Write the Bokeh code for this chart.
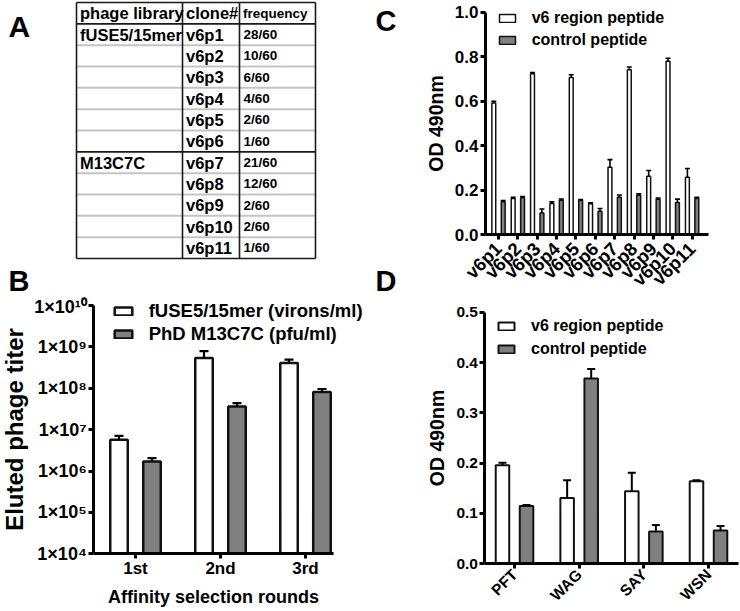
import math
from bokeh.plotting import figure
from bokeh.layouts import column, row
from bokeh.models import (Range1d, FixedTicker, Legend, LegendItem, Whisker, TeeHead,
                          ColumnDataSource, Label, NumeralTickFormatter)
from bokeh.embed import file_html
from bokeh.resources import INLINE
from bokeh.core.properties import value

FONT = "Liberation Sans"

# ---------------- Panel A: table ----------------
TABLE_HEADER = ["phage library", "clone#", "frequency"]
LIBRARY = ["fUSE5/15mer", "", "", "", "", "", "M13C7C", "", "", "", ""]
CLONES = ["v6p1", "v6p2", "v6p3", "v6p4", "v6p5", "v6p6",
          "v6p7", "v6p8", "v6p9", "v6p10", "v6p11"]
FREQUENCY = ["28/60", "10/60", "6/60", "4/60", "2/60", "1/60",
             "21/60", "12/60", "2/60", "2/60", "1/60"]
GROUP_BREAK_AFTER = 6  # rows of first library

# ---------------- Panel B ----------------
ROUNDS = ["1st", "2nd", "3rd"]
FUSE_TITER = [5.7e6, 5.4e8, 4.1e8]
FUSE_ERR = [1.4e6, 2.5e8, 0.8e8]
M13_TITER = [1.7e6, 3.6e7, 8.1e7]
M13_ERR = [0.35e6, 0.75e7, 1.5e7]
B_TICKS = [1e4, 1e5, 1e6, 1e7, 1e8, 1e9, 1e10]
B_TICK_LABELS = ["1×10⁴", "1×10⁵", "1×10⁶", "1×10⁷", "1×10⁸", "1×10⁹", "1×10¹⁰"]
B_LEGEND = ["fUSE5/15mer (virons/ml)", "PhD M13C7C (pfu/ml)"]

# ---------------- Panel C ----------------
C_V6 = [0.592, 0.162, 0.724, 0.139, 0.707, 0.138, 0.303, 0.742, 0.262, 0.780, 0.258]
C_V6_ERR = [0.008, 0.005, 0.005, 0.008, 0.012, 0.005, 0.034, 0.012, 0.026, 0.013, 0.039]
C_CTRL = [0.147, 0.165, 0.097, 0.154, 0.153, 0.105, 0.168, 0.177, 0.159, 0.144, 0.162]
C_CTRL_ERR = [0.006, 0.006, 0.018, 0.006, 0.004, 0.012, 0.010, 0.006, 0.005, 0.015, 0.005]
C_TICKS = [0.0, 0.2, 0.4, 0.6, 0.8, 1.0]

# ---------------- Panel D ----------------
PEPTIDES = ["PFT", "WAG", "SAY", "WSN"]
D_V6 = [0.196, 0.131, 0.144, 0.164]
D_V6_ERR = [0.005, 0.035, 0.037, 0.002]
D_CTRL = [0.115, 0.368, 0.064, 0.066]
D_CTRL_ERR = [0.002, 0.019, 0.013, 0.009]
D_TICKS = [0.0, 0.1, 0.2, 0.3, 0.4, 0.5]

PEP_LEGEND = ["v6 region peptide", "control peptide"]

GRAY = "#808080"
EDGE = "#111111"
TOP_H = 296
BOT_H = 611 - TOP_H
COL_W = 370


def new_fig(h, xr, yr, **kw):
    p = figure(width=COL_W, height=h, output_backend="svg", toolbar_location=None,
               x_range=xr, y_range=yr, min_border=0, min_border_left=0,
               min_border_right=0, min_border_top=0, min_border_bottom=0, **kw)
    p.grid.visible = False
    p.outline_line_color = None
    return p


def letter(p, text, x, y, size="29px"):
    p.add_layout(Label(x=x, y=y, x_units="screen", y_units="screen", text=text,
                       text_font=FONT, text_font_style="bold", text_font_size=size,
                       text_color="black", text_baseline="middle", text_align="left"))


def style_axes(p, tick_font, label_font):
    for ax in (p.xaxis + p.yaxis):
        ax.axis_line_width = 3
        ax.axis_line_color = "black"
        ax.major_tick_line_width = 3
        ax.major_tick_line_color = "black"
        ax.major_tick_in = 0
        ax.major_tick_out = 5
        ax.minor_tick_line_color = None
        ax.major_label_text_font = FONT
        ax.major_label_text_font_style = "bold"
        ax.major_label_text_font_size = tick_font
        ax.major_label_text_color = "black"
        ax.axis_label_text_font = FONT
        ax.axis_label_text_font_style = "bold"
        ax.axis_label_text_font_size = label_font
        ax.axis_label_text_color = "black"


def bars(p, xs, v1, e1, v2, e2, off, width, lw, head, wlw, bottom):
    s1 = ColumnDataSource(dict(x=[x - off for x in xs], top=v1,
                               up=[a + b for a, b in zip(v1, e1)]))
    s2 = ColumnDataSource(dict(x=[x + off for x in xs], top=v2,
                               up=[a + b for a, b in zip(v2, e2)]))
    r1 = p.vbar(x="x", top="top", bottom=bottom, width=width, source=s1,
                fill_color="white", line_color=EDGE, line_width=lw)
    r2 = p.vbar(x="x", top="top", bottom=bottom, width=width, source=s2,
                fill_color=GRAY, line_color=EDGE, line_width=lw)
    for s in (s1, s2):
        w = Whisker(source=s, base="x", lower="top", upper="up", dimension="height",
                    line_width=wlw, line_color="black", lower_head=None,
                    upper_head=TeeHead(size=head, line_width=wlw, line_color="black"),
                    level="annotation")
        p.add_layout(w)
    return r1, r2


def legend(p, r1, r2, labels, loc, font, gw, gh, lh, standoff, spacing):
    lg = Legend(items=[LegendItem(label=labels[0], renderers=[r1]),
                       LegendItem(label=labels[1], renderers=[r2])],
                location=loc, padding=0, margin=0, spacing=spacing,
                glyph_width=gw, glyph_height=gh, label_height=lh,
                label_standoff=standoff, border_line_color=None,
                background_fill_alpha=0, label_text_baseline="alphabetic",
                label_text_font=FONT, label_text_font_style="bold",
                label_text_font_size=font, label_text_color="black")
    p.add_layout(lg)


# ================= Figure A (table) =================
ROW_H = 256 / 12.0
TABLE_TOP = 2
pA = new_fig(TOP_H, Range1d(0, COL_W),
             Range1d((TOP_H - TABLE_TOP) / ROW_H, -TABLE_TOP / ROW_H),
             x_axis_location=None, y_axis_location=None)

COLS = [76, 182, 239, 315]
n = len(CLONES)
hy_gray = [i + 1 for i in range(1, n) if i != GROUP_BREAK_AFTER]
pA.segment(x0=[COLS[0]] * len(hy_gray), x1=[COLS[-1]] * len(hy_gray), y0=hy_gray, y1=hy_gray,
           line_color="#c4c4c4", line_width=2)
hy_black = [0, 1, GROUP_BREAK_AFTER + 1, n + 1]
pA.segment(x0=[COLS[0]] * len(hy_black), x1=[COLS[-1]] * len(hy_black), y0=hy_black, y1=hy_black,
           line_color="#1a1a1a", line_width=1.6)
pA.segment(x0=COLS, x1=COLS, y0=[0] * len(COLS), y1=[n + 1] * len(COLS),
           line_color="#1a1a1a", line_width=1.6)

rows_y = [i + 1.5 for i in range(n)]
pA.text(x=[COLS[0] + 3.5, COLS[1] + 3.5], y=[0.5, 0.5], text=TABLE_HEADER[:2],
        text_font=value(FONT), text_font_style="bold", text_font_size="16.5px",
        text_baseline="middle", text_color="black")
pA.text(x=[COLS[2] + 3.5], y=[0.5], text=TABLE_HEADER[2:],
        text_font=value(FONT), text_font_style="bold", text_font_size="13.5px",
        text_baseline="middle", text_color="black")
pA.text(x=[COLS[0] + 3.5] * n, y=rows_y, text=LIBRARY,
        text_font=value(FONT), text_font_style="bold", text_font_size="16.5px",
        text_baseline="middle", text_color="black")
pA.text(x=[COLS[1] + 3.5] * n, y=rows_y, text=CLONES,
        text_font=value(FONT), text_font_style="bold", text_font_size="16.5px",
        text_baseline="middle", text_color="black")
pA.text(x=[COLS[2] + 4] * n, y=rows_y, text=FREQUENCY,
        text_font=value(FONT), text_font_style="bold", text_font_size="13.5px",
        text_baseline="middle", text_color="black")
letter(pA, "A", 8, TOP_H - 26, "30px")
letter(pA, "B", 8, TOP_H - 280, "29px")

# ================= Figure C =================
xc = list(range(len(CLONES)))
C_X0, C_DX = 128.0, 19.36       # pixel of first category, pixels per category
C_Y0, C_DY = 234.0, 222.2       # pixel of 0.0, pixels per unit
pC = new_fig(TOP_H, Range1d(-C_X0 / C_DX, (COL_W - C_X0) / C_DX),
             Range1d((C_Y0 - TOP_H) / C_DY, C_Y0 / C_DY))
style_axes(pC, "17px", "19.5px")
c_xlo, c_xhi = (115 - C_X0) / C_DX, (338 - C_X0) / C_DX
pC.yaxis.fixed_location = c_xlo
pC.yaxis.bounds = (C_TICKS[0], C_TICKS[-1])
pC.xaxis.fixed_location = 0
pC.xaxis.bounds = (c_xlo, c_xhi)
pC.xaxis.ticker = FixedTicker(ticks=xc)
pC.xaxis.major_label_overrides = {i: c for i, c in zip(xc, CLONES)}
pC.xaxis.major_label_orientation = math.pi / 4
pC.xaxis.major_label_text_font_size = "18.5px"
pC.xaxis.major_label_standoff = 6
pC.yaxis.ticker = FixedTicker(ticks=C_TICKS)
pC.yaxis.formatter = NumeralTickFormatter(format="0.0")
pC.yaxis.major_label_standoff = 2
pC.yaxis.axis_label = "OD 490nm"
pC.yaxis.axis_label_standoff = 5
c1, c2 = bars(pC, xc, C_V6, C_V6_ERR, C_CTRL, C_CTRL_ERR, 0.243, 0.2, 1.5, 5, 1.6, 0)
legend(pC, c1, c2, PEP_LEGEND, (126.7, TOP_H - 50), "16px", 20, 10, 20, 15, 2)
letter(pC, "C", 5, TOP_H - 20, "29px")
letter(pC, "D", 5, TOP_H - 280, "29px")

# ================= Figure B =================
xb = list(range(len(ROUNDS)))
B_X0, B_DX = 135.0, 85.0
B_TOP, B_DEC = 305.0 - TOP_H, 41.38   # pixel of 1e10 (local), pixels per decade
pB = new_fig(BOT_H, Range1d(-B_X0 / B_DX, (COL_W - B_X0) / B_DX),
             Range1d(10 ** (10 - (BOT_H - B_TOP) / B_DEC), 10 ** (10 + B_TOP / B_DEC)),
             y_axis_type="log")
style_axes(pB, "17px", "18px")
b_xlo, b_xhi = (93.3 - B_X0) / B_DX, (333 - B_X0) / B_DX
pB.yaxis.fixed_location = b_xlo
pB.yaxis.bounds = (B_TICKS[0], B_TICKS[-1])
pB.xaxis.fixed_location = B_TICKS[0]
pB.xaxis.bounds = (b_xlo, b_xhi)
pB.xaxis.ticker = FixedTicker(ticks=xb)
pB.xaxis.major_label_overrides = {i: r for i, r in zip(xb, ROUNDS)}
pB.xaxis.major_label_standoff = 0
pB.xaxis.axis_label = "Affinity selection rounds"
pB.xaxis.axis_label_standoff = 6
pB.yaxis.ticker = FixedTicker(ticks=B_TICKS)
pB.yaxis.major_label_overrides = {int(t): l for t, l in zip(B_TICKS, B_TICK_LABELS)}
pB.yaxis.major_label_text_font_size = "18px"
pB.yaxis.major_label_standoff = 2
pB.yaxis.axis_label = "Eluted phage titer"
pB.yaxis.axis_label_text_font_size = "24px"
pB.yaxis.axis_label_standoff = 3
b1, b2 = bars(pB, xb, FUSE_TITER, FUSE_ERR, M13_TITER, M13_ERR, 0.194, 0.206, 2.5, 9, 2.2,
              B_TICKS[0])
legend(pB, b1, b2, B_LEGEND, (111.7, 611 - 345), "18.5px", 22, 10, 22, 15, 1)

# ================= Figure D =================
xd = list(range(len(PEPTIDES)))
D_X0, D_DX = 144.0, 64.67
D_Y0, D_DY = 563.3 - TOP_H, 503.2
pD = new_fig(BOT_H, Range1d(-D_X0 / D_DX, (COL_W - D_X0) / D_DX),
             Range1d((D_Y0 - BOT_H) / D_DY, D_Y0 / D_DY))
style_axes(pD, "15.5px", "19.5px")
d_xlo, d_xhi = (113.5 - D_X0) / D_DX, (368 - D_X0) / D_DX
pD.yaxis.fixed_location = d_xlo
pD.yaxis.bounds = (D_TICKS[0], D_TICKS[-1])
pD.xaxis.fixed_location = 0
pD.xaxis.bounds = (d_xlo, d_xhi)
pD.xaxis.ticker = FixedTicker(ticks=xd)
pD.xaxis.major_label_overrides = {i: s for i, s in zip(xd, PEPTIDES)}
pD.xaxis.major_label_orientation = math.pi / 4
pD.xaxis.major_label_text_font_size = "15.5px"
pD.xaxis.major_label_standoff = 3
pD.yaxis.ticker = FixedTicker(ticks=D_TICKS)
pD.yaxis.formatter = NumeralTickFormatter(format="0.0")
pD.yaxis.major_label_standoff = 1
pD.yaxis.axis_label = "OD 490nm"
pD.yaxis.axis_label_standoff = 6
d1, d2 = bars(pD, xd, D_V6, D_V6_ERR, D_CTRL, D_CTRL_ERR, 0.186, 0.209, 2, 8, 2, 0)
legend(pD, d1, d2, PEP_LEGEND, (126, 611 - 359), "16px", 20, 10, 20, 15, 3)

layout = column(row(pA, pC), row(pB, pD))
open("out.html", "w").write(file_html(layout, INLINE))
